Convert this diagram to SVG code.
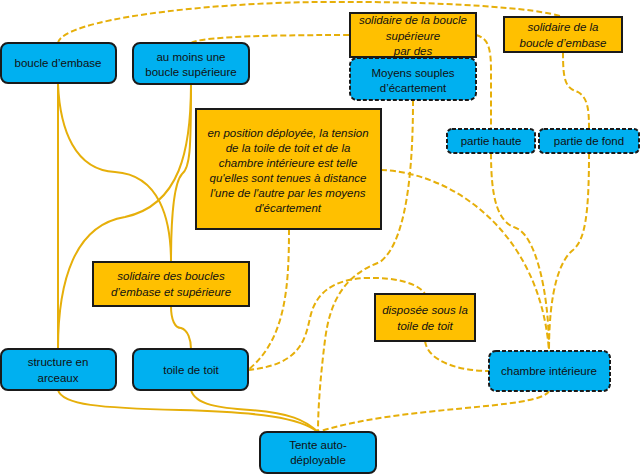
<svg xmlns="http://www.w3.org/2000/svg" width="640" height="475" viewBox="0 0 640 475">
<style>
.c{fill:none;stroke:#E6AF0A;stroke-width:2}
.d{stroke-dasharray:6,3}
.b{fill:#00B0F0;stroke:#1a1a1a;stroke-width:2}
.bd{fill:#00B0F0;stroke:#1a1a1a;stroke-width:2;stroke-dasharray:4,2}
.o{fill:#FFC000;stroke:#1a1a1a;stroke-width:2}
text{font-family:"Liberation Sans","Open Sans",sans-serif;font-size:11.5px;fill:#111;text-anchor:middle}
.i{font-style:italic;font-size:11.5px}
</style>
<rect width="640" height="475" fill="#fff"/>
<g id="connectors">
<path class="c" d="M58,84 L58,349"/>
<path class="c" d="M58,84 C60,130 75,170 115,172 C160,175 171,220 171,262"/>
<path class="c" d="M191,84 C191,150 180,205 125,217 C75,225 58,280 58,349"/>
<path class="c" d="M191,84 C191,150 190,168 182,174 C172,185 171,230 171,262"/>
<path class="c" d="M171,306 C171,320 175,328 181,328 C188,330 191,340 191,349"/>
<path class="c" d="M58,390 C62,405 100,408 180,410 C260,412 300,418 318,432"/>
<path class="c" d="M191,390 C195,405 220,408 250,410 C290,413 305,420 318,432"/>
<path class="c d" d="M58,43 C62,20 200,3 320,2 C440,1 540,8 563,17"/>
<path class="c d" d="M191,43 C200,37 260,35 350,35"/>
<path class="c d" d="M476,35 C488,38 491,48 491,70 L491,129"/>
<path class="c d" d="M491,153 C491,200 498,222 516,228 C535,235 549,290 549,351"/>
<path class="c d" d="M563,52 C563,80 565,88 578,92 C588,98 589,110 589,129"/>
<path class="c d" d="M589,153 C589,215 585,240 573,250 C560,260 549,290 549,351"/>
<path class="c d" d="M381,170 C450,172 540,230 549,351"/>
<path class="c d" d="M413,100 C413,150 410,240 380,262 C345,275 330,300 325,340 C320,380 318,410 318,432"/>
<path class="c d" d="M289,229 C289,290 285,340 248,370"/>
<path class="c d" d="M248,370 C300,365 305,340 310,318 C315,295 330,280 365,278 C400,277 420,285 425,294"/>
<path class="c d" d="M425,341 C428,362 460,371 489,371"/>
<path class="c d" d="M549,391 C540,410 400,405 318,432"/>
</g>
<g id="boucle-embase"><rect class="b" x="1" y="43" width="115" height="40" rx="7"/><text x="58" y="67">boucle d’embase</text></g>
<g id="boucle-sup"><rect class="b" x="133" y="43" width="116" height="41" rx="7"/><text x="191" y="61">au moins une</text><text x="191" y="76">boucle supérieure</text></g>
<g id="solidaire-sup"><rect class="o" x="350" y="13" width="126" height="44"/><text class="i" x="413" y="24">solidaire de la boucle</text><text class="i" x="413" y="40">supérieure</text><text class="i" x="413" y="55">par des</text></g>
<g id="moyens"><rect class="bd" x="350" y="58" width="126" height="42" rx="7"/><text x="413" y="77">Moyens souples</text><text x="413" y="92">d’écartement</text></g>
<g id="solidaire-embase"><rect class="o" x="504" y="17" width="118" height="35"/><text class="i" x="563" y="31">solidaire de la</text><text class="i" x="563" y="47">boucle d’embase</text></g>
<g id="position"><rect class="o" x="196" y="109" width="185" height="120"/>
<text class="i" x="288" y="137">en position déployée, la tension</text>
<text class="i" x="288" y="152">de la toile de toit  et de la</text>
<text class="i" x="288" y="167">chambre intérieure est telle</text>
<text class="i" x="288" y="182">qu'elles sont tenues à distance</text>
<text class="i" x="288" y="197">l'une de l'autre par les moyens</text>
<text class="i" x="288" y="212">d'écartement</text></g>
<g id="partie-haute"><rect class="bd" x="447" y="129" width="88" height="24" rx="5"/><text x="491" y="145">partie haute</text></g>
<g id="partie-fond"><rect class="bd" x="539" y="129" width="100" height="24" rx="5"/><text x="589" y="145">partie de fond</text></g>
<g id="solidaire-boucles"><rect class="o" x="93" y="262" width="156" height="44"/><text class="i" x="171" y="280">solidaire des boucles</text><text class="i" x="171" y="296">d’embase et supérieure</text></g>
<g id="disposee"><rect class="o" x="375" y="294" width="100" height="47"/><text class="i" x="425" y="314">disposée sous la</text><text class="i" x="425" y="330">toile de toit</text></g>
<g id="structure"><rect class="b" x="1" y="349" width="115" height="41" rx="7"/><text x="58" y="366">structure en</text><text x="58" y="382">arceaux</text></g>
<g id="toile"><rect class="b" x="133" y="349" width="115" height="41" rx="7"/><text x="191" y="374">toile de toit</text></g>
<g id="chambre"><rect class="bd" x="489" y="351" width="121" height="40" rx="7"/><text x="549" y="375">chambre intérieure</text></g>
<g id="tente"><rect class="b" x="260" y="432" width="116" height="41" rx="7"/><text x="318" y="449">Tente auto-</text><text x="318" y="464">déployable</text></g>
</svg>
